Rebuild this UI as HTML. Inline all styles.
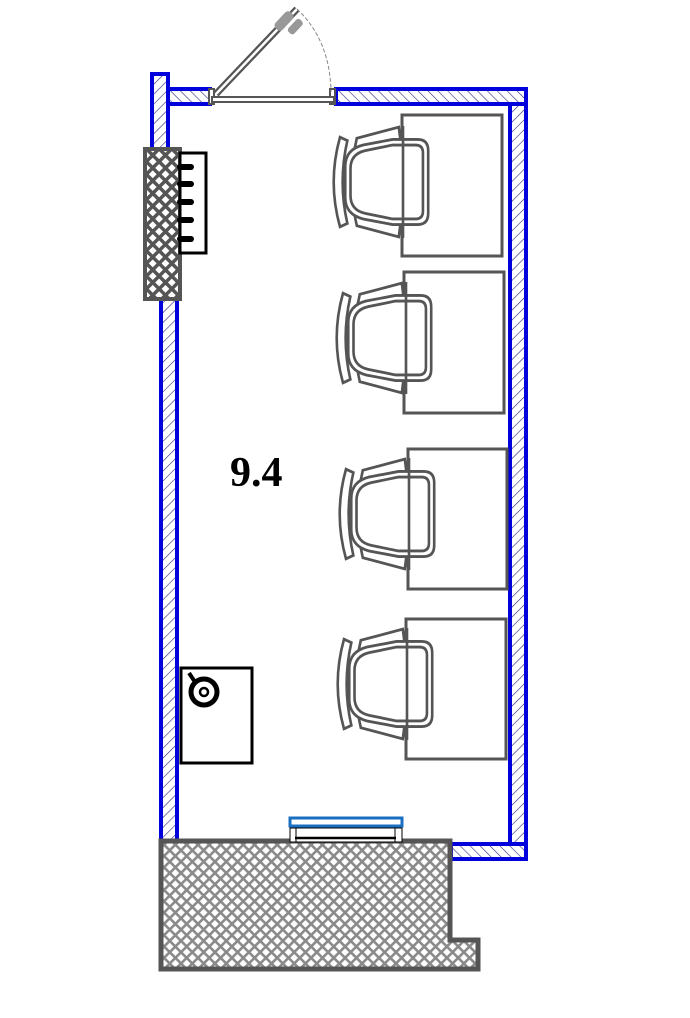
<!DOCTYPE html>
<html><head><meta charset="utf-8"><style>html,body{margin:0;padding:0;background:#fff}svg{display:block}</style></head>
<body>
<svg width="690" height="1018" viewBox="0 0 690 1018" xmlns="http://www.w3.org/2000/svg">
<defs>
<pattern id="hb" width="7" height="7" patternUnits="userSpaceOnUse" patternTransform="rotate(45)">
<rect width="7" height="7" fill="#fff"/><line x1="0" y1="0" x2="0" y2="7" stroke="#2a2a8a" stroke-width="1.2"/></pattern>
<pattern id="hf" width="7" height="7" patternUnits="userSpaceOnUse" patternTransform="rotate(-45)">
<rect width="7" height="7" fill="#fff"/><line x1="0" y1="0" x2="0" y2="7" stroke="#2a2a8a" stroke-width="1.2"/></pattern>
<pattern id="x" width="8" height="8" patternUnits="userSpaceOnUse" patternTransform="rotate(45)">
<rect width="8" height="8" fill="#fff"/><rect width="8" height="2.6" fill="#8a8a8a"/><rect width="2.6" height="8" fill="#8a8a8a"/></pattern>
<pattern id="xd" width="9" height="9" patternUnits="userSpaceOnUse" patternTransform="rotate(45)">
<rect width="9" height="9" fill="#fff"/><rect width="9" height="3.5" fill="#555"/><rect width="3.5" height="9" fill="#555"/></pattern>
<g id="chair" fill="none" stroke="#555" stroke-width="2.5">
<path d="M-60,-40 L-53,-37 Q-62,0 -53,37 L-60,40 Q-72,0 -60,-40 Z" fill="#fff"/>
<path d="M-46,-30 L-44,-39 L-4,-49 L-2,-34" fill="#fff"/>
<path d="M-46,30 L-44,39 L-4,49 L-2,34" fill="#fff"/>
<rect x="-57" y="-5" width="6" height="10" fill="#fff"/>
<path d="M-10,-38 L14,-38 Q24,-38 24,-28 L24,28 Q24,38 14,38 L-10,38 L-38,33 Q-55,29 -55,14 L-55,-14 Q-55,-29 -38,-33 Z" fill="#fff"/>
<path d="M-10,-33 L12,-33 Q19,-33 19,-26 L19,26 Q19,33 12,33 L-10,33 L-36,28 Q-50,25 -50,12 L-50,-12 Q-50,-25 -36,-28 Z"/>
<line x1="0" y1="-50" x2="0" y2="50"/>
</g>
</defs>

<rect x="152" y="74" width="16" height="80" fill="url(#hb)" stroke="#0000dd" stroke-width="4"/>
<rect x="161" y="296" width="16" height="546" fill="url(#hb)" stroke="#0000dd" stroke-width="4"/>
<rect x="168" y="89" width="42" height="15" fill="url(#hf)" stroke="#0000dd" stroke-width="4"/>
<rect x="336" y="89" width="190" height="15" fill="url(#hf)" stroke="#0000dd" stroke-width="4"/>
<rect x="510" y="104" width="16" height="740" fill="url(#hb)" stroke="#0000dd" stroke-width="4"/>
<rect x="451" y="844" width="75" height="15" fill="url(#hf)" stroke="#0000dd" stroke-width="4"/>

<rect x="209" y="89" width="5" height="15" fill="#fff" stroke="#555" stroke-width="2"/>
<rect x="330" y="89" width="5" height="15" fill="#fff" stroke="#555" stroke-width="2"/>
<rect x="212" y="97" width="122" height="5" fill="#fff" stroke="#555" stroke-width="2"/>
<line x1="216" y1="94" x2="297" y2="9" stroke="#555" stroke-width="7"/>
<line x1="216" y1="94" x2="297" y2="9" stroke="#fff" stroke-width="2.5"/>
<path d="M297,9 Q330,40 331,92" fill="none" stroke="#888" stroke-width="1" stroke-dasharray="4,2"/>
<rect x="279" y="10" width="10" height="22" rx="4" fill="#999" transform="rotate(43 284 21)"/>
<rect x="291" y="18" width="8" height="17" rx="3" fill="#999" transform="rotate(43 295 27)"/>

<rect x="145" y="149" width="35" height="150" fill="url(#xd)" stroke="#555" stroke-width="4"/>
<rect x="180" y="153" width="26" height="100" fill="#fff" stroke="#000" stroke-width="3"/>
<g stroke="#000" stroke-width="6" stroke-linecap="round">
<line x1="180" y1="167" x2="191" y2="167"/><line x1="180" y1="184" x2="191" y2="184"/>
<line x1="180" y1="202" x2="191" y2="202"/><line x1="180" y1="220" x2="191" y2="220"/>
<line x1="180" y1="239" x2="191" y2="239"/></g>

<g fill="#fff" stroke="#555" stroke-width="3">
<rect x="402" y="115" width="100" height="141"/>
<rect x="404" y="272" width="100" height="141"/>
<rect x="408" y="449" width="99" height="140"/>
<rect x="406" y="619" width="100" height="140"/>
</g>
<use href="#chair" transform="translate(403,182) scale(1.05,1.12)"/>
<use href="#chair" transform="translate(406,338) scale(1.05,1.12)"/>
<use href="#chair" transform="translate(409,514) scale(1.05,1.12)"/>
<use href="#chair" transform="translate(407,684) scale(1.05,1.12)"/>

<rect x="181" y="668" width="71" height="95" fill="#fff" stroke="#000" stroke-width="3"/>
<circle cx="204" cy="692" r="13" fill="none" stroke="#000" stroke-width="5"/>
<circle cx="204" cy="692" r="4" fill="none" stroke="#000" stroke-width="2.5"/>
<path d="M189,673 L195,682" stroke="#000" stroke-width="4"/>

<text x="230" y="486" font-family="Liberation Serif, serif" font-weight="bold" font-size="42">9.4</text>

<path d="M161,841 L450,841 L450,940 L478,940 L478,969 L161,969 Z" fill="url(#x)" stroke="#555" stroke-width="5"/>

<rect x="290" y="818" width="112" height="8" fill="#fff" stroke="#1a6fc0" stroke-width="3"/>
<rect x="290" y="828" width="112" height="14" fill="#fff" stroke="#000" stroke-width="1"/>
<line x1="295" y1="838" x2="396" y2="838" stroke="#000" stroke-width="2.5"/>
<line x1="296" y1="828" x2="296" y2="842" stroke="#000" stroke-width="1"/>
<line x1="395" y1="828" x2="395" y2="842" stroke="#000" stroke-width="1"/>
</svg>
</body></html>
